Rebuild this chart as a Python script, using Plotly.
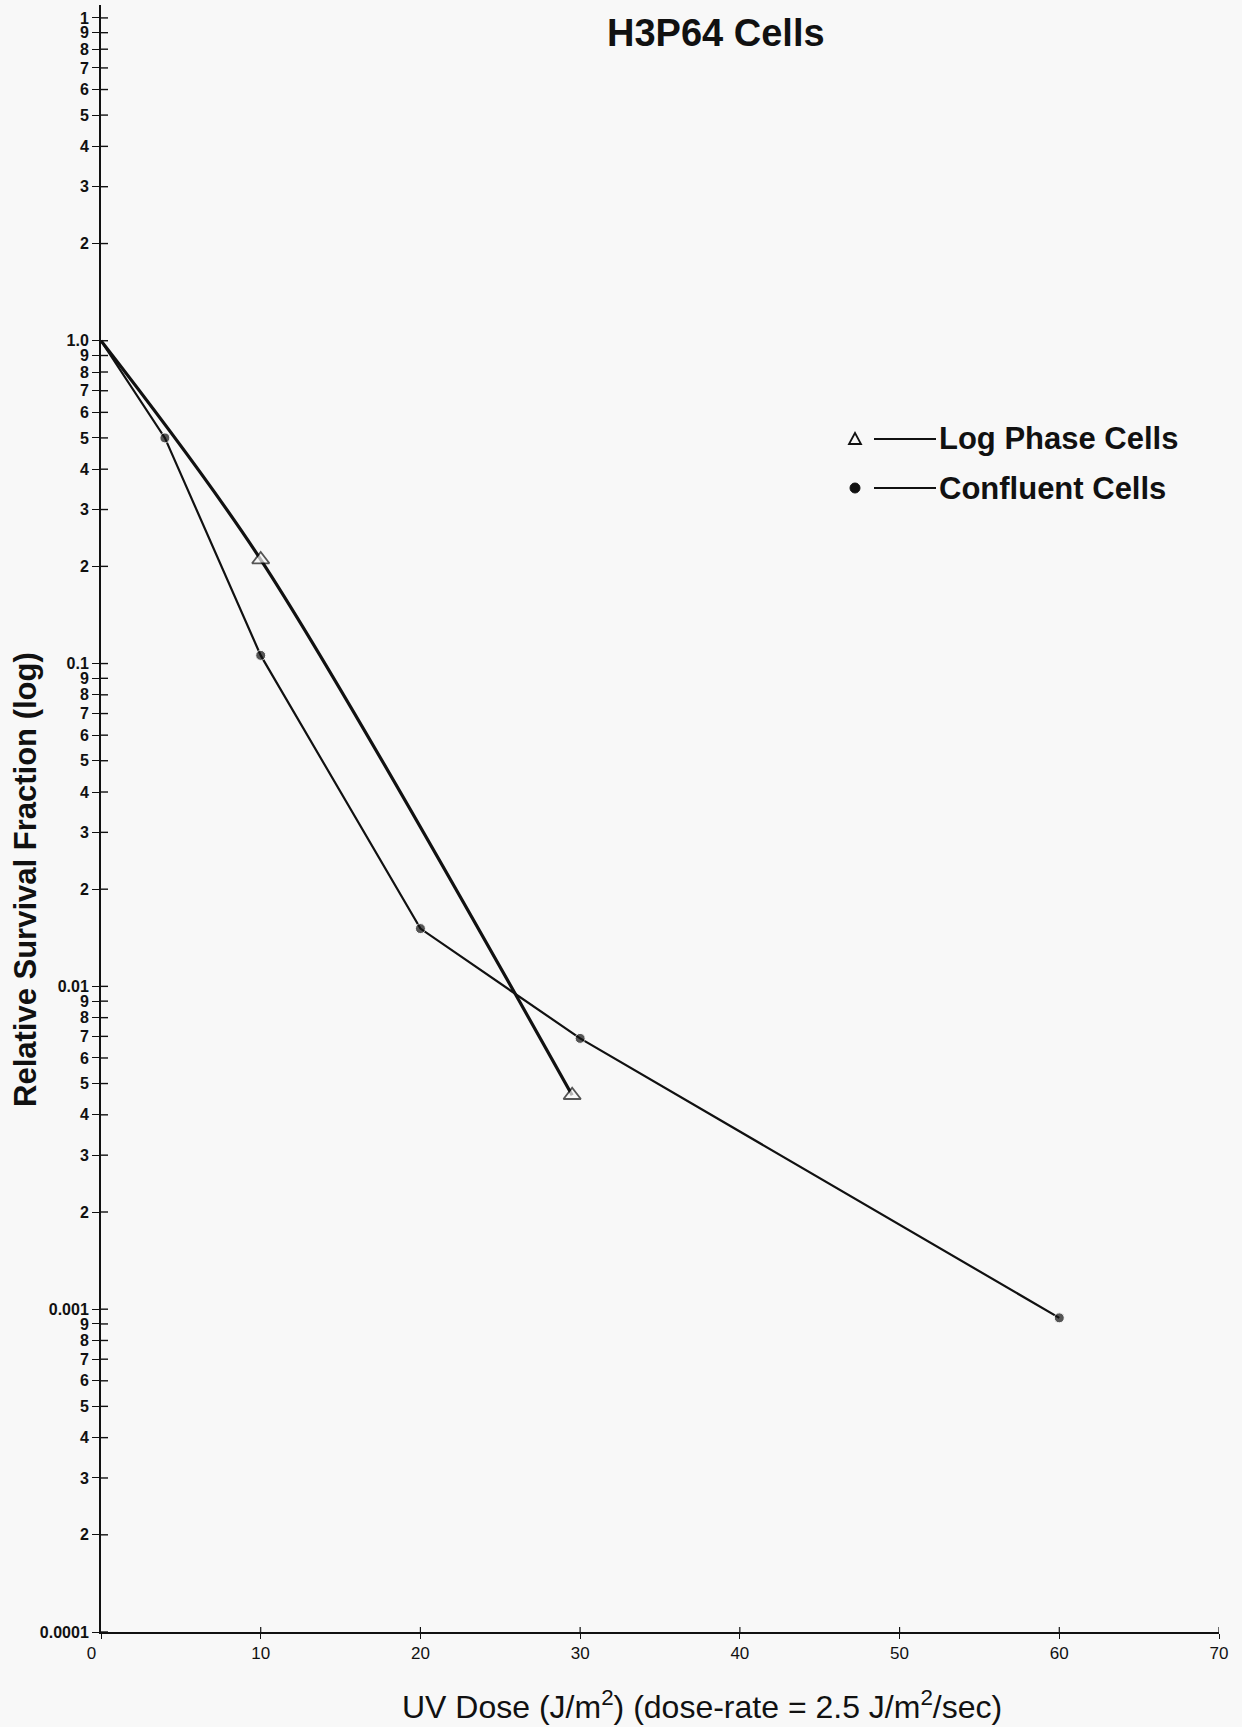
import plotly.graph_objects as go

# ---- data ----
dose_log = [0, 10, 29.5]
surv_log = [1.0, 0.21, 0.0046]
dose_conf = [0, 4, 10, 20, 30, 60]
surv_conf = [1.0, 0.50, 0.106, 0.0151, 0.0069, 0.00094]

series_names = ["Log Phase Cells", "Confluent Cells"]
x_tick_vals = [0, 10, 20, 30, 40, 50, 60, 70]
x_tick_text = ["0\u00a0\u00a0\u00a0\u00a0", "10", "20", "30", "40", "50", "60", "70"]
decades = [0.0001, 0.001, 0.01, 0.1, 1.0]
decade_labels = ["0.0001", "0.001", "0.01", "0.1", "1.0"]
minor_digits = [2, 3, 4, 5, 6, 7, 8, 9]
top_value, top_label = 10, "1"

# ---- tick construction ----
y_tick_vals, y_tick_text = [], []
for d, lab in zip(decades, decade_labels):
    y_tick_vals.append(d); y_tick_text.append(lab)
    for k in minor_digits:
        y_tick_vals.append(d * k); y_tick_text.append(str(k))
y_tick_vals.append(top_value); y_tick_text.append(top_label)

W, H = 1242, 1727
L, R, T, B = 101, 23, 5, 95
BG = "#f8f8f8"
INK = "#111111"

def px(xp):
    return (xp - L) / (W - L - R)

def py(yp):
    return (H - B - yp) / (H - T - B)

fig = go.Figure()

fig.add_trace(go.Scatter(
    x=dose_log, y=surv_log, mode="lines+markers", name=series_names[0],
    line=dict(color=INK, width=3.2, shape="spline", smoothing=0.9),
    marker=dict(symbol="triangle-up", size=[0, 15, 15], color=BG,
                line=dict(color=INK, width=1.8)),
    showlegend=False,
))
fig.add_trace(go.Scatter(
    x=dose_conf, y=surv_conf, mode="lines+markers", name=series_names[1],
    line=dict(color=INK, width=2.2),
    marker=dict(symbol="circle", size=[0, 10, 10, 10, 10, 10], color=INK),
    showlegend=False,
))

yrange = [-4, 1.04]
fig.update_layout(
    width=W, height=H,
    margin=dict(l=L, r=R, t=T, b=B),
    paper_bgcolor=BG, plot_bgcolor=BG,
    font=dict(family="Liberation Sans, Arial, sans-serif", color=INK),
    xaxis=dict(range=[0, 70], tickvals=x_tick_vals, ticktext=x_tick_text,
               ticks="outside", ticklen=5,
               tickwidth=1.2, tickcolor=INK, showline=True, linecolor=INK,
               linewidth=2, showgrid=False, zeroline=False,
               tickfont=dict(size=17, color=INK)),
    yaxis=dict(type="log", range=yrange, tickvals=y_tick_vals, ticktext=y_tick_text,
               ticks="outside", ticklen=7, tickwidth=1.4, tickcolor=INK,
               showline=True, linecolor=INK, linewidth=2, showgrid=False,
               zeroline=False, tickfont=dict(size=16, color=INK, weight="bold")),
)

shapes = []
# inner half of the cross-shaped ticks, placed by the axis scales
for v in y_tick_vals:
    shapes.append(dict(type="line", xref="x domain", yref="y",
                       xsizemode="pixel", xanchor=0, x0=0, x1=7,
                       y0=v, y1=v, line=dict(color=INK, width=1.4), layer="above"))
for v in x_tick_vals[1:]:
    shapes.append(dict(type="line", xref="x", yref="y domain",
                       ysizemode="pixel", yanchor=0, y0=0, y1=5,
                       x0=v, x1=v, line=dict(color=INK, width=1.2), layer="above"))

ann = []
ann.append(dict(text="<b>H3P64 Cells</b>", x=px(716), y=py(33), xref="paper", yref="paper",
                xanchor="center", yanchor="middle", showarrow=False,
                font=dict(size=38, color=INK)))
ann.append(dict(text="<b>Relative Survival Fraction (log)</b>", x=px(25), y=py(880),
                xref="paper", yref="paper", xanchor="center", yanchor="middle",
                textangle=-90, showarrow=False, font=dict(size=31, color=INK)))
ann.append(dict(text="UV Dose (J/m<sup>2</sup>) (dose-rate = 2.5 J/m<sup>2</sup>/sec)",
                x=px(702), y=py(1705), xref="paper", yref="paper",
                xanchor="center", yanchor="middle", showarrow=False,
                font=dict(size=32, color=INK)))

# manual legend
rows = [(439, "tri"), (488, "dot")]
for (ypix, kind), name in zip(rows, series_names):
    ann.append(dict(text="<b>%s</b>" % name, x=px(937), y=py(ypix), xref="paper",
                    yref="paper", xanchor="left", yanchor="middle", showarrow=False,
                    font=dict(size=31, color=INK)))
    shapes.append(dict(type="line", xref="paper", yref="paper",
                       x0=px(874), x1=px(936), y0=py(ypix), y1=py(ypix),
                       line=dict(color=INK, width=2.2)))
    if kind == "tri":
        shapes.append(dict(type="path", xref="paper", yref="paper",
                           xsizemode="pixel", ysizemode="pixel",
                           xanchor=px(855), yanchor=py(ypix),
                           path="M -6 -5 L 6 -5 L 0 6 Z",
                           line=dict(color=INK, width=1.8), fillcolor=BG))
    else:
        shapes.append(dict(type="circle", xref="paper", yref="paper",
                           xsizemode="pixel", ysizemode="pixel",
                           xanchor=px(855), yanchor=py(ypix),
                           x0=-5, x1=5, y0=-5, y1=5,
                           line=dict(color=INK, width=1), fillcolor=INK))

fig.update_layout(annotations=ann, shapes=shapes)
fig.write_html("out.html")
